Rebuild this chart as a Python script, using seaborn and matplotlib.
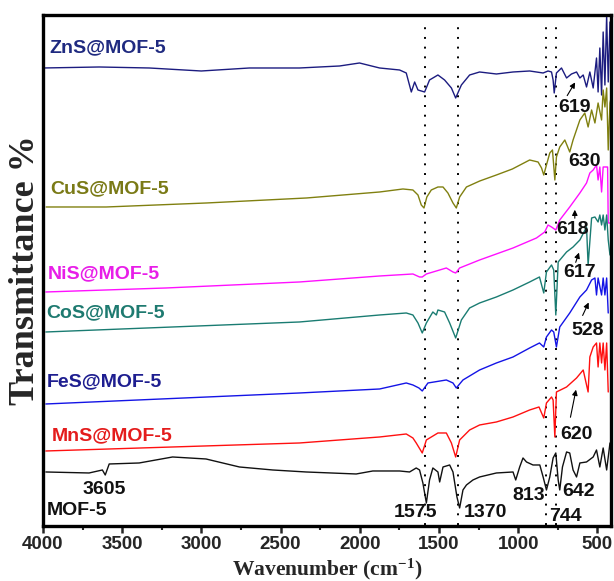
import matplotlib
matplotlib.use("Agg")
import matplotlib.pyplot as plt
from matplotlib.ticker import MultipleLocator
import seaborn as sns
import pandas as pd

# ---------------- data ----------------
zns_wn = [3999, 3645, 3329, 3001, 2697, 2381, 2128, 2002, 1926, 1875, 1749, 1707, 1675, 1654, 1633,
          1591, 1560, 1507, 1465, 1422, 1395, 1359, 1307, 1244, 1138, 1033, 928, 843, 812, 790, 780,
          773, 759, 727, 695, 664, 632, 611, 590, 569, 548, 527, 506, 496, 485, 474, 464, 453, 442,
          432, 421, 410]
zns_t = [458, 459, 458, 455, 458, 458, 460, 463, 460, 458, 456, 453, 434, 444, 436,
         434, 446, 451, 446, 438, 428, 441, 451, 454, 452, 454, 455, 453, 455, 454, 446,
         433, 453, 458, 448, 452, 454, 448, 451, 439, 454, 438, 468, 434, 478, 431, 494, 441, 511,
         444, 504, 466]

cus_wn = [3980, 3601, 2969, 2337, 1875, 1728, 1665, 1633, 1612, 1595, 1577, 1549, 1507, 1475, 1444,
          1412, 1391, 1370, 1327, 1243, 1138, 1037, 928, 875, 853, 839, 822, 801, 784, 769, 759,
          738, 706, 675, 654, 611, 580, 559, 537, 516, 496, 474, 464, 453, 442, 432, 421, 410]
cus_t = [319, 319, 323, 328, 334, 337, 336, 331, 321, 318, 329, 336, 339, 339, 333,
         323, 318, 329, 339, 345, 351, 357, 366, 364, 358, 351, 361, 373, 376, 346, 369,
         379, 386, 374, 386, 406, 413, 399, 416, 403, 423, 406, 436, 419, 438, 376, 423, 431]

nis_wn = [3982, 3224, 2381, 1875, 1665, 1623, 1606, 1580, 1454, 1412, 1395, 1370, 1244, 1033, 885,
          833, 812, 790, 763, 738, 675, 611, 569, 548, 527, 506, 496, 485, 474, 464, 442, 436,
          432, 415]
nis_t = [234, 238, 244, 250, 252, 249, 249, 252, 258, 254, 253, 258, 266, 278, 288,
         294, 301, 299, 296, 306, 319, 333, 343, 353, 356, 361, 346, 359, 334, 359, 359, 359,
         303, 303]

cos_wn = [3982, 2381, 1875, 1707, 1665, 1633, 1606, 1580, 1539, 1517, 1507, 1465, 1433, 1395, 1359,
          1307, 1244, 1138, 1033, 928, 866, 839, 822, 790, 776, 763, 748, 695, 654, 611, 569,
          559, 537, 516, 496, 485, 474, 464, 453, 442, 432, 421]
cos_t = [194, 204, 211, 213, 211, 203, 193, 203, 214, 211, 216, 214, 203, 188, 206,
         218, 223, 229, 236, 244, 249, 233, 254, 261, 256, 211, 264, 274, 279, 286, 299,
         261, 308, 309, 304, 311, 301, 311, 296, 311, 286, 271]

fes_wn = [3982, 2381, 1875, 1707, 1665, 1627, 1606, 1570, 1454, 1412, 1391, 1349, 1244, 1138, 1033,
          928, 866, 839, 822, 790, 776, 759, 738, 675, 611, 569, 537, 516, 506, 496, 474, 464,
          453, 442, 432]
fes_t = [122, 133, 137, 143, 141, 138, 135, 143, 146, 143, 138, 146, 156, 163, 169,
         178, 183, 179, 189, 196, 194, 179, 199, 213, 229, 236, 246, 248, 231, 248, 231, 248,
         231, 248, 213]

mns_wn = [3982, 2381, 1875, 1707, 1665, 1644, 1606, 1580, 1507, 1454, 1422, 1395, 1370, 1307, 1244,
          1138, 1033, 928, 869, 839, 822, 790, 780, 769, 759, 695, 632, 590, 559, 548, 527, 506,
          496, 485, 474, 464, 453, 442, 432]
mns_t = [75, 83, 89, 92, 88, 83, 73, 86, 93, 93, 83, 69, 86, 96, 101,
         104, 109, 116, 119, 108, 123, 129, 126, 89, 134, 139, 148, 156, 134, 169, 179, 183,
         159, 183, 163, 183, 156, 183, 134]

mof_wn = [3982, 3709, 3625, 3607, 3582, 3393, 3182, 2971, 2760, 2550, 2339, 2023, 1918, 1749, 1686,
          1644, 1623, 1602, 1580, 1560, 1539, 1507, 1496, 1475, 1433, 1412, 1387, 1370, 1349, 1327,
          1286, 1244, 1138, 1033, 1016, 991, 970, 948, 907, 864, 843, 822, 801, 780, 763, 748,
          738, 721, 695, 675, 654, 632, 611, 569, 527, 506, 485, 464, 442, 421, 410]
mof_t = [54, 53, 56, 51, 62, 63, 69, 67, 59, 56, 54, 52, 55, 55, 54,
         58, 56, 43, 23, 46, 58, 54, 44, 59, 61, 54, 29, 18, 36, 41,
         46, 49, 53, 54, 46, 59, 68, 64, 61, 61, 49, 36, 49, 68, 73, 46,
         36, 59, 74, 73, 56, 49, 63, 64, 69, 76, 59, 78, 56, 83, 71]

series_names = ["ZnS@MOF-5", "CuS@MOF-5", "NiS@MOF-5", "CoS@MOF-5", "FeS@MOF-5", "MnS@MOF-5", "MOF-5"]
line_colors = ["#1c1c80", "#808010", "#ff10ff", "#1a7c72", "#1414e6", "#ff1010", "#111111"]
label_colors = ["#1f2a80", "#7a7a16", "#e81ee8", "#1e7a70", "#1e1e90", "#e41c1c", "#111111"]

peak_lines = [1591, 1380, 822, 759]

# ---------------- build table ----------------
all_wn = [zns_wn, cus_wn, nis_wn, cos_wn, fes_wn, mns_wn, mof_wn]
all_t = [zns_t, cus_t, nis_t, cos_t, fes_t, mns_t, mof_t]
frames = []
for name, wn, t in zip(series_names, all_wn, all_t):
    frames.append(pd.DataFrame({"wn": wn, "t": t, "sample": name}))
df = pd.concat(frames, ignore_index=True)

sns.set_theme(style="white")
plt.rcParams["font.family"] = ["Liberation Sans", "DejaVu Sans"]
plt.rcParams["mathtext.fontset"] = "custom"
plt.rcParams["mathtext.rm"] = "Liberation Serif:bold"
plt.rcParams["mathtext.it"] = "Liberation Serif:bold"
plt.rcParams["mathtext.bf"] = "Liberation Serif:bold"

fig = plt.figure(figsize=(6.14, 5.81), dpi=100)
ax = fig.add_axes([0.070, 0.0947, 0.925, 0.8795])

sns.lineplot(data=df, x="wn", y="t", hue="sample", palette=dict(zip(series_names, line_colors)),
             estimator=None, sort=False, units="sample", legend=False, linewidth=1.0, ax=ax)

for w in peak_lines:
    ax.axvline(w, ymin=0.002, ymax=0.99, color="black", linestyle=(0, (1, 4)), linewidth=1.4, zorder=1)

ax.set_xlim(4000, 415)
ax.set_ylim(0, 511)
ax.set_yticks([])
ax.xaxis.set_major_locator(MultipleLocator(500))
ax.xaxis.set_minor_locator(MultipleLocator(250))
ax.tick_params(axis="x", which="major", direction="out", length=5, width=1.8, bottom=True,
               labelsize=13.5, pad=2)
ax.tick_params(axis="x", which="minor", direction="out", length=3, width=1.5, bottom=True)
for lab in ax.get_xticklabels():
    lab.set_fontweight("bold")
for sp in ax.spines.values():
    sp.set_linewidth(2.4)
    sp.set_color("black")

ax.set_xlabel("Wavenumber (cm$^{-1}$)", fontfamily="Liberation Serif", fontweight="bold",
              fontsize=15.5, labelpad=3)
ax.set_ylabel("Transmittance %", fontfamily="Liberation Serif", fontweight="bold", fontsize=26,
              labelpad=1)

# sample labels
label_pos = [(3961, 478), (3951, 337), (3968, 252), (3980, 213), (3974, 144), (3942, 90), (3974, 15)]
for name, col, (x, y) in zip(series_names, label_colors, label_pos):
    ax.text(x, y, name, color=col, fontsize=14, fontweight="bold", ha="left", va="center")

# peak labels
peak_text = [("3605", 3613, 36), ("619", 643, 418), ("630", 580, 364), ("618", 655, 296),
             ("617", 611, 253), ("528", 561, 195), ("620", 630, 91), ("1575", 1648, 13),
             ("1370", 1206, 13), ("813", 934, 30), ("642", 617, 34), ("744", 700, 9)]
for s, x, y in peak_text:
    ax.text(x, y, s, color="#111111", fontsize=14, fontweight="bold", ha="center", va="center")

arrows = [((700, 428), (632, 446)), ((643, 305), (643, 319)), ((643, 261), (611, 276)),
          ((601, 208), (548, 226)), ((674, 106), (632, 139))]
for (xt, yt), (xh, yh) in arrows:
    ax.annotate("", xy=(xh, yh), xytext=(xt, yt),
                arrowprops=dict(arrowstyle="-|>", color="black", lw=0.8, mutation_scale=8))

fig.savefig("out.png", dpi=100)
